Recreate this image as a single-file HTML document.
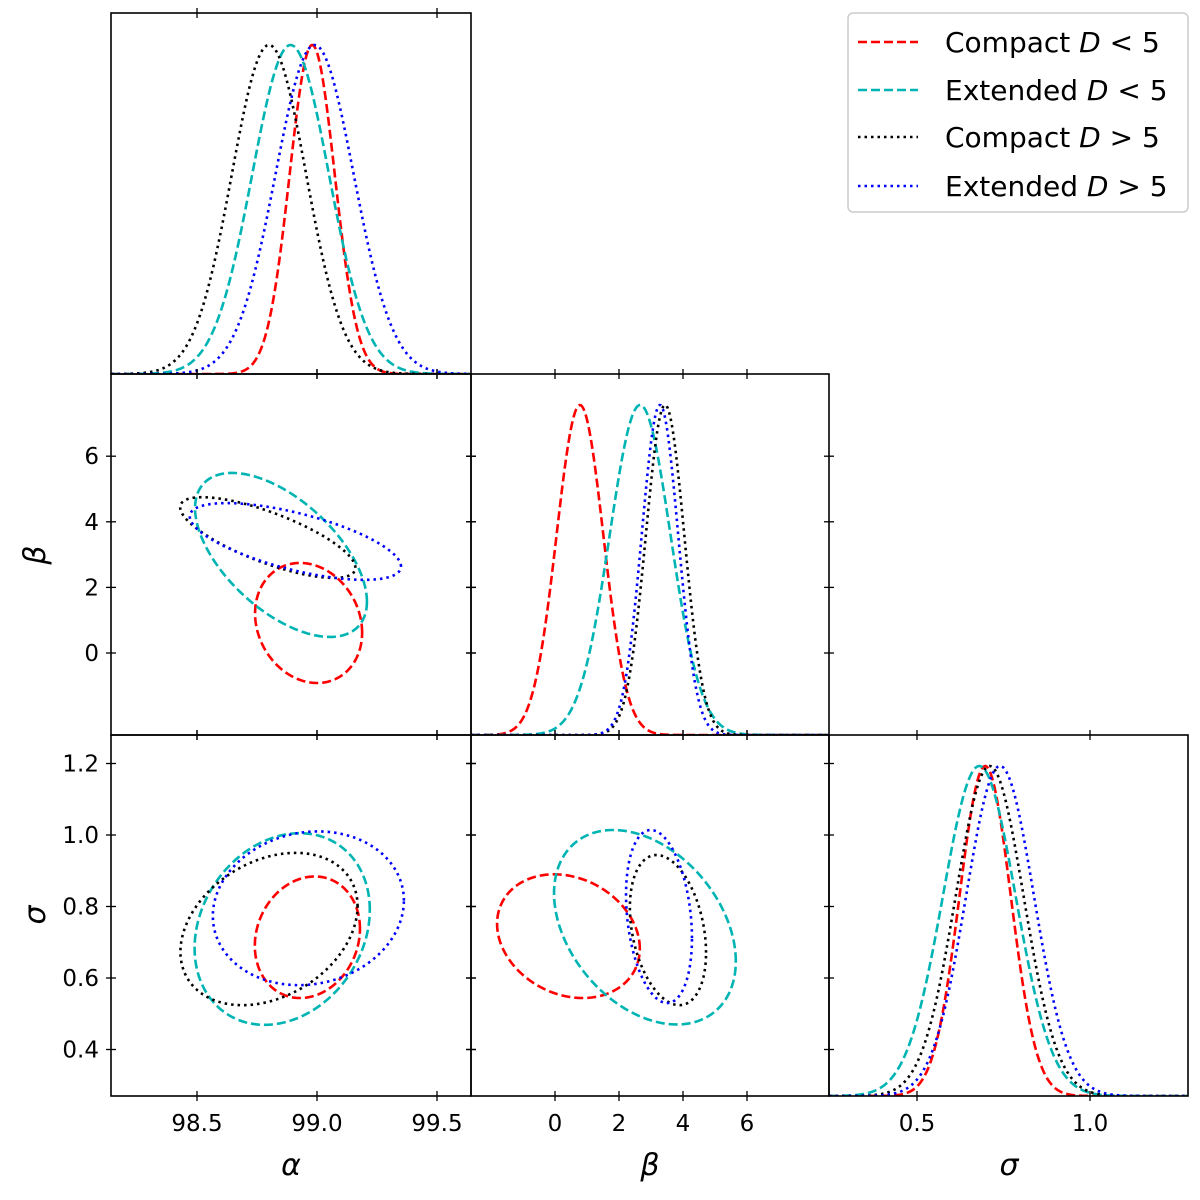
<!DOCTYPE html>
<html><head><meta charset="utf-8"><style>
html,body{margin:0;padding:0;background:#fff;}
svg{display:block;font-family:"DejaVu Sans","Liberation Sans",sans-serif;}
</style></head><body>
<svg id="c" width="1200" height="1200" viewBox="0 0 1200 1200"></svg>
<script>
const series = ['Compact D<5','Extended D<5','Compact D>5','Extended D>5'];
const colors = ['#ff0000','#00b4b4','#000000','#0000ff'];
const alphaMean = [98.98, 98.89, 98.80, 98.99];
const alphaSd = [0.094, 0.16, 0.155, 0.163];
const betaMean = [0.78, 2.66, 3.44, 3.28];
const betaSd = [0.73, 0.95, 0.6, 0.57];
const sigmaMean = [0.697, 0.68, 0.71, 0.74];
const sigmaSd = [0.074, 0.105, 0.098, 0.098];
// contour ellipses: [cx, cy, halfwidthX, halfwidthY, rho]
const ellAlphaBeta = [[98.965,0.915,0.223,1.83,-0.16],[98.85,2.99,0.358,2.5,-0.57],[98.795,3.52,0.365,1.23,-0.75],[98.91,3.4,0.44,1.17,-0.65]];
const ellAlphaSigma = [[98.96,0.714,0.219,0.17,0.14],[98.855,0.737,0.365,0.268,0.2],[98.80,0.737,0.369,0.213,0.3],[98.964,0.795,0.398,0.215,0.1]];
const ellBetaSigma = [[0.42,0.717,2.23,0.173,-0.2],[2.81,0.742,2.84,0.272,-0.35],[3.53,0.734,1.19,0.21,-0.3],[3.25,0.772,1.03,0.242,-0.25]];
const alphaTicks = [98.5,99.0,99.5];
const betaTicks = [0,2,4,6];
const sigmaYTicks = [0.4,0.6,0.8,1.0,1.2];
const sigmaXTicks = [0.5,1.0];

const svg = document.getElementById('c');
const NS='http://www.w3.org/2000/svg';
function mk(tag, attrs, parent){const e=document.createElementNS(NS,tag);for(const k in attrs)e.setAttribute(k,attrs[k]);(parent||svg).appendChild(e);return e;}
const xA = a => 317+(a-99)*240;
const xB = b => 555+b*32;
const yB = b => 653-b*32.8;
const yS = s => 835+(1-s)*357.5;
const xS = s => 917+(s-0.5)*346;
const cols=[[111,471],[471,829],[829,1188]];
const rows=[[13,374],[374,735],[735,1096]];
const dash=['9,4','9,4','2.5,4','2.5,4'];

function frame(c,r,name){
  const f=mk('rect',{x:cols[c][0],y:rows[r][0],width:cols[c][1]-cols[c][0],height:rows[r][1]-rows[r][0],fill:'none',stroke:'#000','stroke-width':1.6});
  
  
}
function xticks(c,r,ticks,fx,label){
  for(const t of ticks){const x=fx(t);
    for(const y of [rows[r][0],rows[r][1]]){const l=mk('line',{x1:x,x2:x,y1:y-5,y2:y+5,stroke:'#000','stroke-width':1.3});}
    if(label){const tx=mk('text',{x:x,y:rows[r][1]+35,'font-size':23,'text-anchor':'middle'});tx.textContent=t.toFixed(Number.isInteger(t)&&fx!==xA&&fx!==xS?0:1);}
  }
}
function yticks(c,r,ticks,fy,label,fmt){
  for(const t of ticks){const y=fy(t);
    for(const x of [cols[c][0],cols[c][1]]){const l=mk('line',{x1:x-5,x2:x+5,y1:y,y2:y,stroke:'#000','stroke-width':1.3});}
    if(label){const tx=mk('text',{x:cols[c][0]-12,y:y+8,'font-size':23,'text-anchor':'end'});tx.textContent=t.toFixed(fmt);}
  }
}
function gauss(i,mean,sd,fx,c,r,lo,hi,peakY,name){
  let d='';const N=300;
  for(let k=0;k<=N;k++){const v=lo+(hi-lo)*k/N;const g=Math.exp(-0.5*((v-mean[i])/sd[i])**2);
    const y=rows[r][1]-g*(rows[r][1]-peakY);d+=(k?'L':'M')+fx(v).toFixed(2)+','+y.toFixed(2);}
  const p=mk('path',{d:d,fill:'none',stroke:colors[i],'stroke-width':2.6,'stroke-dasharray':dash[i],'clip-path':'url(#cl'+c+r+')'});
  
  
}
function ellipse(i,e,fx,fy,c,r,name){
  const [cx,cy,sx,sy,rho]=e;let d='';const N=200;const q=Math.sqrt(1-rho*rho);
  for(let k=0;k<=N;k++){const t=2*Math.PI*k/N;const x=cx+sx*Math.cos(t);const y=cy+sy*(rho*Math.cos(t)+q*Math.sin(t));
    d+=(k?'L':'M')+fx(x).toFixed(2)+','+fy(y).toFixed(2);}
  const p=mk('path',{d:d+'Z',fill:'none',stroke:colors[i],'stroke-width':2.6,'stroke-dasharray':dash[i],'clip-path':'url(#cl'+c+r+')'});
  
  
}
const defs=mk('defs',{});
[[0,0],[0,1],[1,1],[0,2],[1,2],[2,2]].forEach(([c,r])=>{const cp=mk('clipPath',{id:'cl'+c+r},defs);mk('rect',{x:cols[c][0],y:rows[r][0],width:cols[c][1]-cols[c][0],height:rows[r][1]-rows[r][0]},cp);});

for(let i=0;i<4;i++){
  gauss(i,alphaMean,alphaSd,xA,0,0,98.142,99.642,45,'alpha-marginal-'+i);
  gauss(i,betaMean,betaSd,xB,1,1,-2.625,8.56,405,'beta-marginal-'+i);
  gauss(i,sigmaMean,sigmaSd,xS,2,2,0.246,1.283,766,'sigma-marginal-'+i);
  ellipse(i,ellAlphaBeta[i],xA,yB,0,1,'alpha-beta-contour-'+i);
  ellipse(i,ellAlphaSigma[i],xA,yS,0,2,'alpha-sigma-contour-'+i);
  ellipse(i,ellBetaSigma[i],xB,yS,1,2,'beta-sigma-contour-'+i);
}
frame(0,0,'alpha-marginal-panel');frame(0,1,'alpha-beta-panel');frame(1,1,'beta-marginal-panel');
frame(0,2,'alpha-sigma-panel');frame(1,2,'beta-sigma-panel');frame(2,2,'sigma-marginal-panel');
xticks(0,0,alphaTicks,xA,false);xticks(0,1,alphaTicks,xA,false);xticks(0,2,alphaTicks,xA,true);
xticks(1,1,betaTicks,xB,false);xticks(1,2,betaTicks,xB,true);xticks(2,2,sigmaXTicks,xS,true);
yticks(0,1,betaTicks,yB,true,0);yticks(1,1,betaTicks,yB,false,0);
yticks(0,2,sigmaYTicks,yS,true,1);yticks(1,2,sigmaYTicks,yS,false,1);

function lab(x,y,t,name,rot){const tx=mk('text',{x:x,y:y,'font-size':30,'font-style':'italic','text-anchor':'middle'});if(rot)tx.setAttribute('transform','rotate(-90 '+x+' '+y+')');tx.textContent=t;}
lab(291,1175,'α','x-axis-title-alpha');lab(650,1175,'β','x-axis-title-beta');lab(1009,1175,'σ','x-axis-title-sigma');
lab(45,555,'β','y-axis-title-beta',true);lab(45,915,'σ','y-axis-title-sigma',true);

const lg=mk('g',{});


mk('rect',{x:848,y:13,width:340,height:199,rx:5,fill:'#fff',stroke:'#cccccc','stroke-width':1.5},lg);
const ly=[42,90,137,186];
const lt=[['Compact ','<'],['Extended ','<'],['Compact ','>'],['Extended ','>']];
for(let i=0;i<4;i++){
  const l=mk('line',{x1:858,x2:918,y1:ly[i],y2:ly[i],stroke:colors[i],'stroke-width':2.6,'stroke-dasharray':dash[i]},lg);
  
  
  const t=mk('text',{x:945,y:ly[i]+10,'font-size':28},lg);
  
  
  t.appendChild(document.createTextNode(lt[i][0]));
  const it=mk('tspan',{'font-style':'italic'},t);it.textContent='D';
  t.appendChild(document.createTextNode(' '+lt[i][1]+' 5'));
}
</script>
</body></html>
